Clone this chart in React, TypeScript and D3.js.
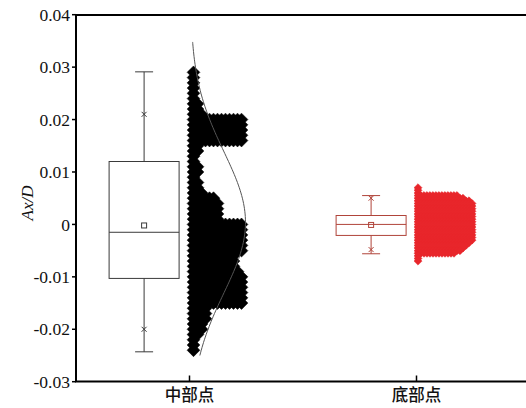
import React from 'react';
import * as d3 from 'd3';

// categories and axis ticks
const categories = ['中部点', '底部点'];
const yTicks = [-0.03, -0.02, -0.01, 0, 0.01, 0.02, 0.03, 0.04];
const yTickLabels = ['-0.03', '-0.02', '-0.01', '0', '0.01', '0.02', '0.03', '0.04'];

// box statistics: [low whisker, q1, median, q3, high whisker]
const midBox = [-0.0243, -0.0103, -0.0015, 0.012, 0.0291];
const bottomBox = [-0.0056, -0.0021, 0.0, 0.0017, 0.0055];
const midMean = -0.0002;
const bottomMean = -0.0001;
const midExtremes = [-0.02, 0.021]; // 1% / 99%
const bottomExtremes = [-0.0048, 0.005];

// binned data points (bin centre, number of points in the bin)
const midValues = [
  0.029, 0.028, 0.027, 0.026, 0.025, 0.024, 0.023, 0.022, 0.021, 0.02,
  0.019, 0.018, 0.017, 0.016, 0.015, 0.014, 0.013, 0.012, 0.011, 0.01,
  0.009, 0.008, 0.007, 0.006, 0.005, 0.004, 0.003, 0.002, 0.001, 0.0,
  -0.001, -0.002, -0.003, -0.004, -0.005, -0.006, -0.007, -0.008, -0.009, -0.01,
  -0.011, -0.012, -0.013, -0.014, -0.015, -0.016, -0.017, -0.018, -0.019, -0.02,
  -0.021, -0.022, -0.023, -0.024,
];
const midCounts = [
  1, 1, 1, 1, 1, 1, 2, 2, 3, 13,
  13, 13, 13, 13, 2, 2, 1, 1, 2, 2,
  1, 2, 2, 3, 6, 7, 7, 7, 7, 13,
  13, 13, 13, 13, 13, 11, 11, 11, 12, 13,
  13, 13, 13, 13, 13, 4, 4, 4, 3, 3,
  2, 1, 1, 1,
];

const bottomValues = [
  0.007, 0.0065, 0.006, 0.0055, 0.005, 0.0045, 0.004, 0.0035, 0.003, 0.0025,
  0.002, 0.0015, 0.001, 0.0005, 0.0, -0.0005, -0.001, -0.0015, -0.002, -0.0025,
  -0.003, -0.0035, -0.004, -0.0045, -0.005, -0.0055, -0.006, -0.0065, -0.007,
];
const bottomCounts = [
  1, 1, 1, 14, 16, 18, 19, 19, 19, 19,
  19, 19, 19, 19, 19, 19, 19, 19, 19, 19,
  19, 18, 17, 16, 15, 13, 1, 1, 1,
];

// normal fit drawn over the mid series
const midFit = { mean: 0.0004, sd: 0.0135, from: -0.025, to: 0.0348 };

const W = 526;
const H = 408;
const serif = "'Liberation Serif', 'Times New Roman', serif";

const App = () => {
  const y = d3.scaleLinear().domain([-0.03, 0.04]).range([381.7, 14.7]);
  const x = d3.scaleLinear().domain([0.5, 2.5]).range([76, 530]);

  const bigDiamond = d3.symbol().type(d3.symbolSquare).size(82)();
  const smallDiamond = d3.symbol().type(d3.symbolSquare).size(32)();

  const series = [
    { box: midBox, mean: midMean, ext: midExtremes, values: midValues, counts: midCounts,
      boxColor: '#3a3a3a', ptColor: '#000', sym: bigDiamond, x0: 4, dx: 4 },
    { box: bottomBox, mean: bottomMean, ext: bottomExtremes, values: bottomValues, counts: bottomCounts,
      boxColor: '#b0443a', ptColor: '#e8262b', sym: smallDiamond, x0: 1.5, dx: 3 },
  ];

  const fitPts = d3.range(midFit.from, midFit.to + 1e-9, 0.0005).concat([midFit.to]);
  const fitLine = d3.line<number>()
    .x(v => x(1) + 1 + 55 * Math.exp(-((v - midFit.mean) ** 2) / (2 * midFit.sd ** 2)))
    .y(v => y(v))
    .curve(d3.curveBasis);

  const boxHalf = 35;
  const capHalf = 9;
  const xmark = (cx: number, cy: number, c: string, k: string) => (
    <g key={k} stroke={c} strokeWidth={1}>
      <line x1={cx - 2.5} x2={cx + 2.5} y1={cy - 2.5} y2={cy + 2.5} />
      <line x1={cx - 2.5} x2={cx + 2.5} y1={cy + 2.5} y2={cy - 2.5} />
    </g>
  );

  return (
    <svg width={W} height={H} style={{ position: 'absolute', left: 0, top: 0, background: '#fff' }}>
      {series.map((s, i) => {
        const cx = x(i + 1 - 0.2);
        const [lo, q1, med, q3, hi] = s.box;
        return (
          <g key={'box' + i} fill="none" stroke={s.boxColor} strokeWidth={1}>
            <rect x={cx - boxHalf} y={y(q3)} width={boxHalf * 2} height={y(q1) - y(q3)} />
            <line x1={cx - boxHalf} x2={cx + boxHalf} y1={y(med)} y2={y(med)} />
            <line x1={cx} x2={cx} y1={y(q3)} y2={y(hi)} />
            <line x1={cx} x2={cx} y1={y(q1)} y2={y(lo)} />
            <line x1={cx - capHalf} x2={cx + capHalf} y1={y(hi)} y2={y(hi)} />
            <line x1={cx - capHalf} x2={cx + capHalf} y1={y(lo)} y2={y(lo)} />
            <rect x={cx - 2.5} y={y(s.mean) - 2.5} width={5} height={5} />
            {s.ext.map((v, j) => xmark(cx, y(v), s.boxColor, 'x' + j))}
          </g>
        );
      })}

      {series.map((s, i) => (
        <g key={'pts' + i} fill={s.ptColor} stroke={s.ptColor} strokeWidth={0.5}>
          {s.values.map((v, j) =>
            d3.range(s.counts[j]).map(k => (
              <path
                key={j + '-' + k}
                d={s.sym}
                transform={`translate(${x(i + 1) + s.x0 + k * s.dx},${y(v)}) rotate(45)`}
              />
            ))
          )}
        </g>
      ))}

      <path d={fitLine(fitPts) || ''} fill="none" stroke="#555" strokeWidth={1} />

      {/* frame */}
      <line x1={76} x2={76} y1={14.7} y2={381.7} stroke="#000" strokeWidth={2} />
      <line x1={75} x2={W} y1={15} y2={15} stroke="#000" strokeWidth={2} />
      <line x1={75} x2={W} y1={381.5} y2={381.5} stroke="#000" strokeWidth={2} />

      {yTicks.map((t, i) => (
        <g key={'yt' + i}>
          <line x1={72} x2={76} y1={y(t)} y2={y(t)} stroke="#000" strokeWidth={1.5} />
          <text x={70} y={y(t)} dy="0.35em" textAnchor="end"
            fontFamily={serif} fontSize={17.5} fill="#111">
            {yTickLabels[i]}
          </text>
        </g>
      ))}

      {categories.map((c, i) => (
        <g key={'xt' + i}>
          <line x1={x(i + 1)} x2={x(i + 1)} y1={381} y2={375.5} stroke="#000" strokeWidth={1.5} />
          <text x={x(i + 1)} y={401} textAnchor="middle"
            fontFamily="'Noto Sans CJK SC'" fontSize={16.5} fontWeight={500} fill="#111">
            {c}
          </text>
        </g>
      ))}

      <text transform="translate(33,203) rotate(-90)" textAnchor="middle"
        fontFamily={serif} fontStyle="italic" fontSize={17} fill="#111">
        Ax/D
      </text>
    </svg>
  );
};

export default App;
